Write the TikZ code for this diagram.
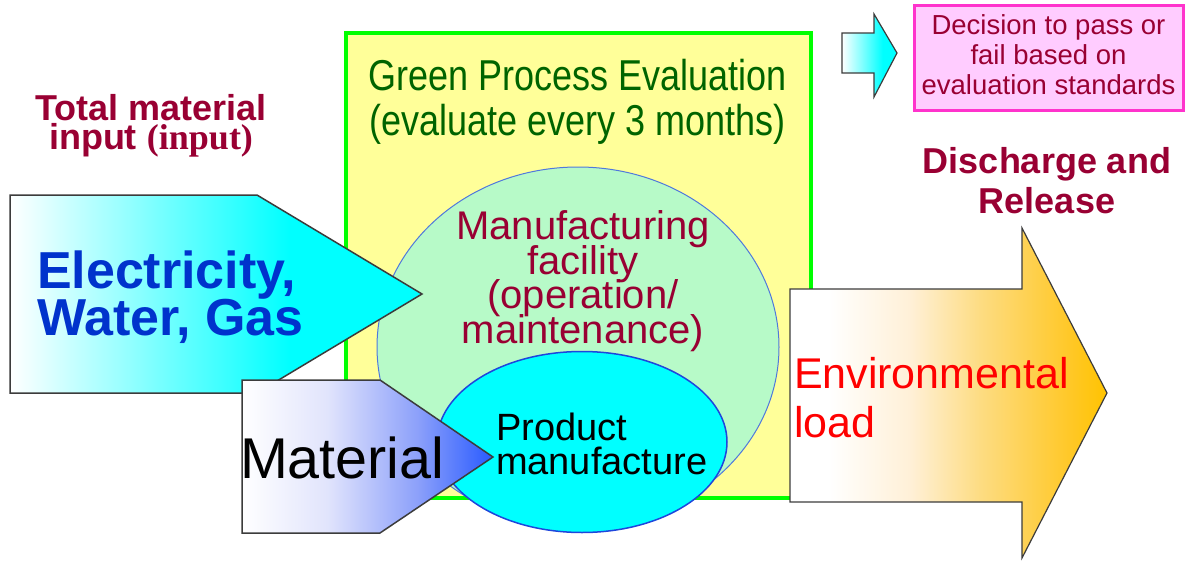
\documentclass[tikz,border=0pt]{standalone}
\usepackage{graphicx}
\usepackage{fontspec}
\setmainfont{Liberation Sans}
\newfontfamily\serifb{Liberation Serif}
\usetikzlibrary{shapes.geometric}
\newcommand{\tightlines}{\lineskiplimit=-100pt\relax}
\definecolor{evalyellow}{RGB}{255,255,153}
\definecolor{evalgreen}{RGB}{0,255,0}
\definecolor{facgreen}{RGB}{183,250,200}
\definecolor{facline}{RGB}{80,120,220}
\definecolor{prodline}{RGB}{30,70,220}
\definecolor{aqua}{RGB}{0,255,255}
\definecolor{darkred}{RGB}{153,0,51}
\definecolor{titlegreen}{RGB}{0,100,0}
\definecolor{elecblue}{RGB}{0,51,204}
\definecolor{pinkfill}{RGB}{255,204,255}
\definecolor{pinkline}{RGB}{255,51,204}
\definecolor{arrowline}{RGB}{60,60,60}
\definecolor{matblue}{RGB}{40,90,255}
\definecolor{matmid}{RGB}{140,160,250}
\definecolor{matlight}{RGB}{225,228,252}
\definecolor{envlight}{RGB}{255,240,215}
\definecolor{envmid}{RGB}{253,220,130}
\definecolor{envdeep}{RGB}{255,200,40}
\definecolor{gold}{RGB}{255,195,0}
\pgfdeclarehorizontalshading{elecshade}{100bp}{color(0bp)=(white); color(25bp)=(white); color(59bp)=(aqua); color(100bp)=(aqua)}
\pgfdeclarehorizontalshading{matshade}{100bp}{color(0bp)=(white); color(25bp)=(white); color(42bp)=(matlight); color(60bp)=(matmid); color(75bp)=(matblue); color(100bp)=(matblue)}
\pgfdeclarehorizontalshading{envshade}{100bp}{color(0bp)=(white); color(31bp)=(white); color(44bp)=(envlight); color(55bp)=(envmid); color(69bp)=(envdeep); color(75bp)=(gold); color(100bp)=(gold)}
\pgfdeclarehorizontalshading{smallshade}{100bp}{color(0bp)=(white); color(25bp)=(white); color(62bp)=(aqua); color(100bp)=(aqua)}
\tikzset{
  evalbox/.style={draw=evalgreen, fill=evalyellow, line width=4, minimum width=465, minimum height=465, inner sep=0},
  facility/.style={ellipse, draw=facline, fill=facgreen, line width=1, minimum width=402, minimum height=360, inner sep=0},
  product/.style={ellipse, draw=prodline, fill=aqua, line width=1.5, minimum width=290, minimum height=181, inner sep=0},
  blockarrow/.style={draw=arrowline, line width=1.5, line join=miter},
  decisionbox/.style={draw=pinkline, fill=pinkfill, line width=3, minimum width=269, minimum height=105, inner sep=0},
  txt/.style={inner sep=0, outer sep=0},
}
\begin{document}
\begin{tikzpicture}[x=1pt, y=-1pt]
\useasboundingbox (0,0) rectangle (1187,562);
% evaluation frame and process shapes
\node[evalbox] (eval) at (578.5,265.5) {};
\node[facility] (fac) at (578,347) {};
\node[product] (prod) at (582,442) {};
% input arrows
\shade[blockarrow, shading=elecshade] (10,195) -- (257,195) -- (422,294) -- (257,393) -- (10,393) -- cycle;
\shade[blockarrow, shading=matshade] (242,380) -- (380,380) -- (493,457) -- (380,533) -- (242,533) -- cycle;
% output arrow
\shade[blockarrow, line width=1.2, shading=envshade] (790,289) -- (1022,289) -- (1022,228) -- (1107,393) -- (1022,558) -- (1022,502) -- (790,502) -- cycle;
% decision
\shade[blockarrow, line width=1.2, shading=smallshade] (842,33) -- (874,33) -- (874,14) -- (897,53) -- (874,97) -- (874,73) -- (842,73) -- cycle;
\node[decisionbox] (dec) at (1048.5,57.5) {};
% texts
\node[txt, anchor=north, align=center, text=titlegreen, font={\fontsize{36}{45}\selectfont\tightlines}] (title) at (577.5,59)
  {\scalebox{1}[1.2]{Green Process Evaluation}\\\scalebox{1}[1.2]{(evaluate every 3 months)}};
\node[txt, anchor=north, align=center, text=darkred, font={\fontsize{40}{34.5}\selectfont\tightlines}] (factext) at (583,211)
  {Manufacturing\\facility\\(operation/\\maintenance)};
\node[txt, anchor=north west, align=left, text=black, font={\fontsize{38}{34}\selectfont\tightlines}] (prodtext) at (496,412.5)
  {Product\\manufacture};
\node[txt, anchor=north west, align=left, text=elecblue, font={\fontsize{52}{47}\selectfont\bfseries\tightlines}] (electext) at (37,250.5)
  {Electricity,\\Water, Gas};
\node[txt, anchor=base west, text=black, font={\fontsize{57.5}{60}\selectfont}] (mattext) at (240,478) {Material};
\node[txt, anchor=north west, align=left, text=red, font={\fontsize{43}{49}\selectfont\tightlines}] (envtext) at (794,357)
  {Environmental\\load};
\node[txt, anchor=north, align=center, text=darkred, font={\fontsize{36}{29.5}\selectfont\bfseries\tightlines}] (input) at (151,94)
  {Total material\\input {\serifb(input)}};
\node[txt, anchor=north, align=center, text=darkred, font={\fontsize{36}{40}\selectfont\bfseries\tightlines}] (discharge) at (1047,147)
  {Discharge and\\Release};
\node[txt, anchor=north, align=center, text=darkred, font={\fontsize{27.5}{30}\selectfont\tightlines}] (dectext) at (1048.5,15)
  {Decision to pass or\\fail based on\\evaluation standards};
\end{tikzpicture}
\end{document}
